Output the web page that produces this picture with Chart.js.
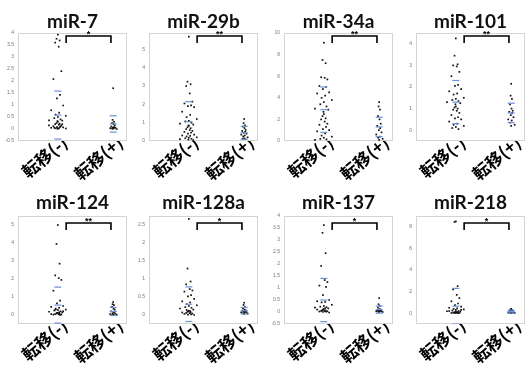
<!DOCTYPE html>
<html>
<head>
<meta charset="utf-8">
<script src="https://cdn.jsdelivr.net/npm/chart.js@4.4.0/dist/chart.umd.min.js"></script>
<style>
  body { margin: 0; background: #fff; width: 531px; height: 365px; overflow: hidden; position: relative; }
  .cell { position: absolute; }
</style>
</head>
<body>
<script>
// miRNA dot plots: 転移(-) vs 転移(+)

const titles = ['miR-7', 'miR-29b', 'miR-34a', 'miR-101', 'miR-124', 'miR-128a', 'miR-137', 'miR-218'];
const sigMarks = ['*', '**', '**', '**', '**', '*', '*', '*'];
const categories = ['転移(-)', '転移(+)'];

const yTicks = [
  [-0.5, 0, 0.5, 1, 1.5, 2, 2.5, 3, 3.5, 4],
  [0, 1, 2, 3, 4, 5],
  [0, 2, 4, 6, 8, 10],
  [0, 1, 2, 3, 4],
  [0, 1, 2, 3, 4, 5],
  [0, 0.5, 1, 1.5, 2, 2.5],
  [-0.5, 0, 0.5, 1, 1.5, 2, 2.5, 3, 3.5, 4],
  [0, 2, 4, 6, 8],
];
const yMin = [-0.5, 0, 0, -0.5, -0.5, -0.25, -0.5, -1];
const yMax = [4, 5.9, 10, 4.5, 5.5, 2.75, 4, 9];

// 転移(-) group values
const metNeg = [
  [3.93, 3.76, 3.69, 3.6, 3.43, 2.41, 2.08, 1.42, 1.28, 0.98, 0.78, 0.68, 0.6, 0.55, 0.5, 0.45, 0.4, 0.36, 0.35, 0.33,
   0.3, 0.25, 0.22, 0.2, 0.18, 0.15, 0.12, 0.1, 0.08, 0.07, 0.05, 0.04, 0.03, 0.02, 0.01, 0.05, 0.1, 0.15, 0.2, 0.02],
  [5.7, 3.24, 3.1, 3.0, 2.6, 2.15, 2.05, 1.95, 1.9, 1.85, 1.6, 1.43, 1.3, 1.2, 1.1, 1.07, 1.0, 0.95, 0.9, 0.85,
   0.83, 0.75, 0.7, 0.65, 0.6, 0.55, 0.5, 0.45, 0.4, 0.35, 0.3, 0.28, 0.25, 0.2, 0.18, 0.15, 0.12, 0.1, 0.05, 0.08],
  [9.1, 7.5, 7.2, 5.9, 5.85, 5.7, 5.1, 5.0, 4.8, 4.5, 4.4, 4.2, 4.0, 3.8, 3.6, 3.4, 3.2, 3.0, 2.9, 2.7,
   2.5, 2.3, 2.1, 2.0, 1.8, 1.6, 1.5, 1.3, 1.1, 1.0, 0.9, 0.7, 0.5, 0.4, 0.3, 0.2, 0.15, 0.1],
  [4.25, 3.45, 3.05, 3.0, 2.95, 2.7, 2.5, 2.1, 2.05, 1.9, 1.8, 1.7, 1.65, 1.5, 1.45, 1.4, 1.35, 1.3, 1.25, 1.2,
   1.1, 1.05, 1.0, 0.95, 0.9, 0.8, 0.7, 0.6, 0.55, 0.5, 0.4, 0.3, 0.25, 0.2, 0.15, 0.1, 0.05],
  [5.0, 3.95, 2.85, 2.2, 2.05, 1.95, 1.35, 0.8, 0.65, 0.5, 0.45, 0.4, 0.35, 0.3, 0.28, 0.25, 0.2, 0.18, 0.15, 0.12,
   0.1, 0.08, 0.06, 0.05, 0.04, 0.03, 0.02, 0.01, 0.1, 0.2, 0.05, 0.15, 0.3],
  [2.67, 1.29, 0.93, 0.85, 0.72, 0.68, 0.65, 0.55, 0.52, 0.45, 0.38, 0.35, 0.3, 0.27, 0.25, 0.22, 0.2, 0.18, 0.15, 0.12,
   0.1, 0.09, 0.08, 0.06, 0.05, 0.04, 0.03, 0.02, 0.01, 0.0, 0.07, 0.11, 0.14],
  [3.62, 3.3, 2.45, 1.92, 1.33, 1.25, 1.1, 1.05, 0.7, 0.5, 0.45, 0.42, 0.4, 0.3, 0.25, 0.22, 0.2, 0.18, 0.15, 0.12,
   0.1, 0.08, 0.06, 0.05, 0.04, 0.03, 0.02, 0.01, 0.0, -0.02, 0.1, 0.15, 0.05],
  [8.5, 8.45, 2.5, 2.2, 1.7, 1.4, 1.1, 0.9, 0.75, 0.6, 0.5, 0.45, 0.4, 0.35, 0.3, 0.25, 0.2, 0.18, 0.15, 0.12,
   0.1, 0.08, 0.06, 0.05, 0.04, 0.03, 0.02, 0.01, 0.0, 0.3, 0.2, 0.1],
];

// 転移(+) group values
const metPos = [
  [1.7, 0.38, 0.3, 0.25, 0.2, 0.15, 0.1, 0.08, 0.06, 0.05, 0.03, 0.02, 0.01, 0.0, 0.04],
  [1.2, 0.98, 0.85, 0.78, 0.7, 0.6, 0.55, 0.5, 0.45, 0.4, 0.35, 0.3, 0.25, 0.2, 0.15, 0.12, 0.1],
  [3.6, 3.2, 2.9, 2.3, 2.0, 1.6, 1.4, 1.2, 1.0, 0.8, 0.6, 0.4, 0.3, 0.2, 0.1],
  [2.15, 1.6, 1.45, 1.2, 1.0, 0.9, 0.85, 0.8, 0.7, 0.6, 0.5, 0.45, 0.35, 0.25, 0.2],
  [0.72, 0.6, 0.55, 0.45, 0.35, 0.3, 0.2, 0.15, 0.1, 0.08, 0.05, 0.03, 0.02, 0.01, 0.0],
  [0.34, 0.28, 0.22, 0.18, 0.15, 0.13, 0.12, 0.1, 0.09, 0.08, 0.07, 0.06, 0.05, 0.04, 0.03],
  [0.58, 0.32, 0.25, 0.18, 0.12, 0.1, 0.08, 0.06, 0.05, 0.04, 0.03, 0.02, 0.01, 0.0, 0.02],
  [0.4, 0.35, 0.3, 0.25, 0.2, 0.18, 0.15, 0.12, 0.1, 0.08, 0.06, 0.05, 0.03, 0.02, 0.01],
];

// blue mean / SD marks
const negMean = [0.58, 1.05, 2.9, 1.3, 0.55, 0.3, 0.5, 0.65];
const negSD = [1.0, 1.1, 2.1, 1.0, 1.0, 0.48, 0.9, 1.65];
const posMean = [0.21, 0.45, 1.3, 0.8, 0.2, 0.12, 0.1, 0.15];
const posSD = [0.34, 0.35, 0.9, 0.45, 0.22, 0.09, 0.15, 0.13];

// horizontal scatter of the dots around each category
const JITTER = [0, -0.03, 0.04, -0.06, 0.02, 0.08, -0.1, 0.05, -0.02, 0.12,
                -0.15, 0.03, -0.05, 0.18, 0.0, -0.08, 0.06, -0.2, 0.1, -0.01];

const BLUE = '#6f8fd6';

const frameAndBracket = {
  id: 'frameAndBracket',
  beforeDatasetsDraw(chart) {
    const { ctx, chartArea: a } = chart;
    ctx.save();
    ctx.strokeStyle = '#d4d4d4';
    ctx.lineWidth = 1;
    ctx.strokeRect(a.left + 0.5, a.top + 0.5, a.width - 1, a.height - 1);
    ctx.restore();
  },
  afterDatasetsDraw(chart, args, opts) {
    const { ctx, chartArea: a, scales: { x } } = chart;
    const x1 = x.getPixelForValue(1.15), x2 = x.getPixelForValue(1.96);
    const yb = a.top + opts.offset;
    ctx.save();
    ctx.strokeStyle = '#000';
    ctx.lineWidth = 1.6;
    ctx.beginPath();
    ctx.moveTo(x1, yb + 7);
    ctx.lineTo(x1, yb);
    ctx.lineTo(x2, yb);
    ctx.lineTo(x2, yb + 7);
    ctx.stroke();
    ctx.fillStyle = '#000';
    ctx.font = 'bold 9px "Liberation Sans"';
    ctx.textAlign = 'center';
    ctx.textBaseline = 'middle';
    ctx.fillText(opts.mark, (x1 + x2) / 2, yb - 1);
    ctx.restore();
  }
};

function dots(values, cat, spread) {
  return values.map((v, i) => ({ x: cat + JITTER[i % JITTER.length] * spread, y: v }));
}

function marks(cat, m, s) {
  return [{ x: cat, y: m - s }, { x: cat, y: m }, { x: cat, y: m + s }];
}

const lefts = [0, 131, 266, 398];

titles.forEach((title, i) => {
  const row = Math.floor(i / 4), col = i % 4;
  const h = row === 0 ? 182 : 183;
  const div = document.createElement('div');
  div.className = 'cell';
  div.style.left = lefts[col] + 'px';
  div.style.top = (row * 182) + 'px';
  const canvas = document.createElement('canvas');
  canvas.width = 133;
  canvas.height = h;
  div.appendChild(canvas);
  document.body.appendChild(div);

  const dotStyle = { pointStyle: 'rect', pointRadius: 1.2, backgroundColor: '#111', borderColor: '#111', borderWidth: 0, showLine: false };
  const markStyle = { pointStyle: 'line', pointRadius: 3.5, borderColor: BLUE, borderWidth: 1.2, showLine: false };

  new Chart(canvas.getContext('2d'), {
    type: 'scatter',
    data: {
      datasets: [
        { data: marks(1, negMean[i], negSD[i]), ...markStyle },
        { data: marks(2, posMean[i], posSD[i]), ...markStyle },
        { data: dots(metNeg[i], 1, 0.8), ...dotStyle },
        { data: dots(metPos[i], 2, 0.35), ...dotStyle },
      ]
    },
    options: {
      responsive: false,
      animation: false,
      devicePixelRatio: 1,
      layout: { autoPadding: false, padding: { left: 0, right: 6, top: 0, bottom: 0 } },
      plugins: {
        legend: { display: false },
        tooltip: { enabled: false },
        title: {
          display: true,
          text: title,
          fullSize: false,
          color: '#111',
          font: { family: 'Lato', weight: 'bold', size: 19, lineHeight: 1 },
          padding: row === 0 ? { top: 12, bottom: 2 } : { top: 11, bottom: 4 },
        },
        frameAndBracket: { offset: row === 0 ? 3 : 7, mark: sigMarks[i] },
      },
      scales: {
        x: {
          type: 'linear',
          min: 0.28,
          max: 2.25,
          grid: { display: false, drawTicks: false },
          border: { display: false },
          afterBuildTicks: axis => { axis.ticks = [{ value: 1 }, { value: 2 }]; },
          afterFit: axis => { axis.height = 41; },
          ticks: {
            autoSkip: false,
            minRotation: 40,
            maxRotation: 40,
            padding: -9,
            labelOffset: 7,
            color: '#000',
            font: { family: '"Noto Sans CJK JP"', weight: 'bold', size: 17 },
            callback: v => categories[v - 1],
          },
        },
        y: {
          min: yMin[i],
          max: yMax[i],
          grid: { display: false, drawTicks: false },
          border: { display: false },
          afterBuildTicks: axis => { axis.ticks = yTicks[i].map(v => ({ value: v })); },
          afterFit: axis => { axis.width = 18; },
          ticks: {
            padding: 4,
            color: '#777',
            font: { family: 'Liberation Sans', size: 5 },
            callback: v => String(v),
          },
        },
      },
    },
    plugins: [frameAndBracket],
  });
});
</script>
</body>
</html>
